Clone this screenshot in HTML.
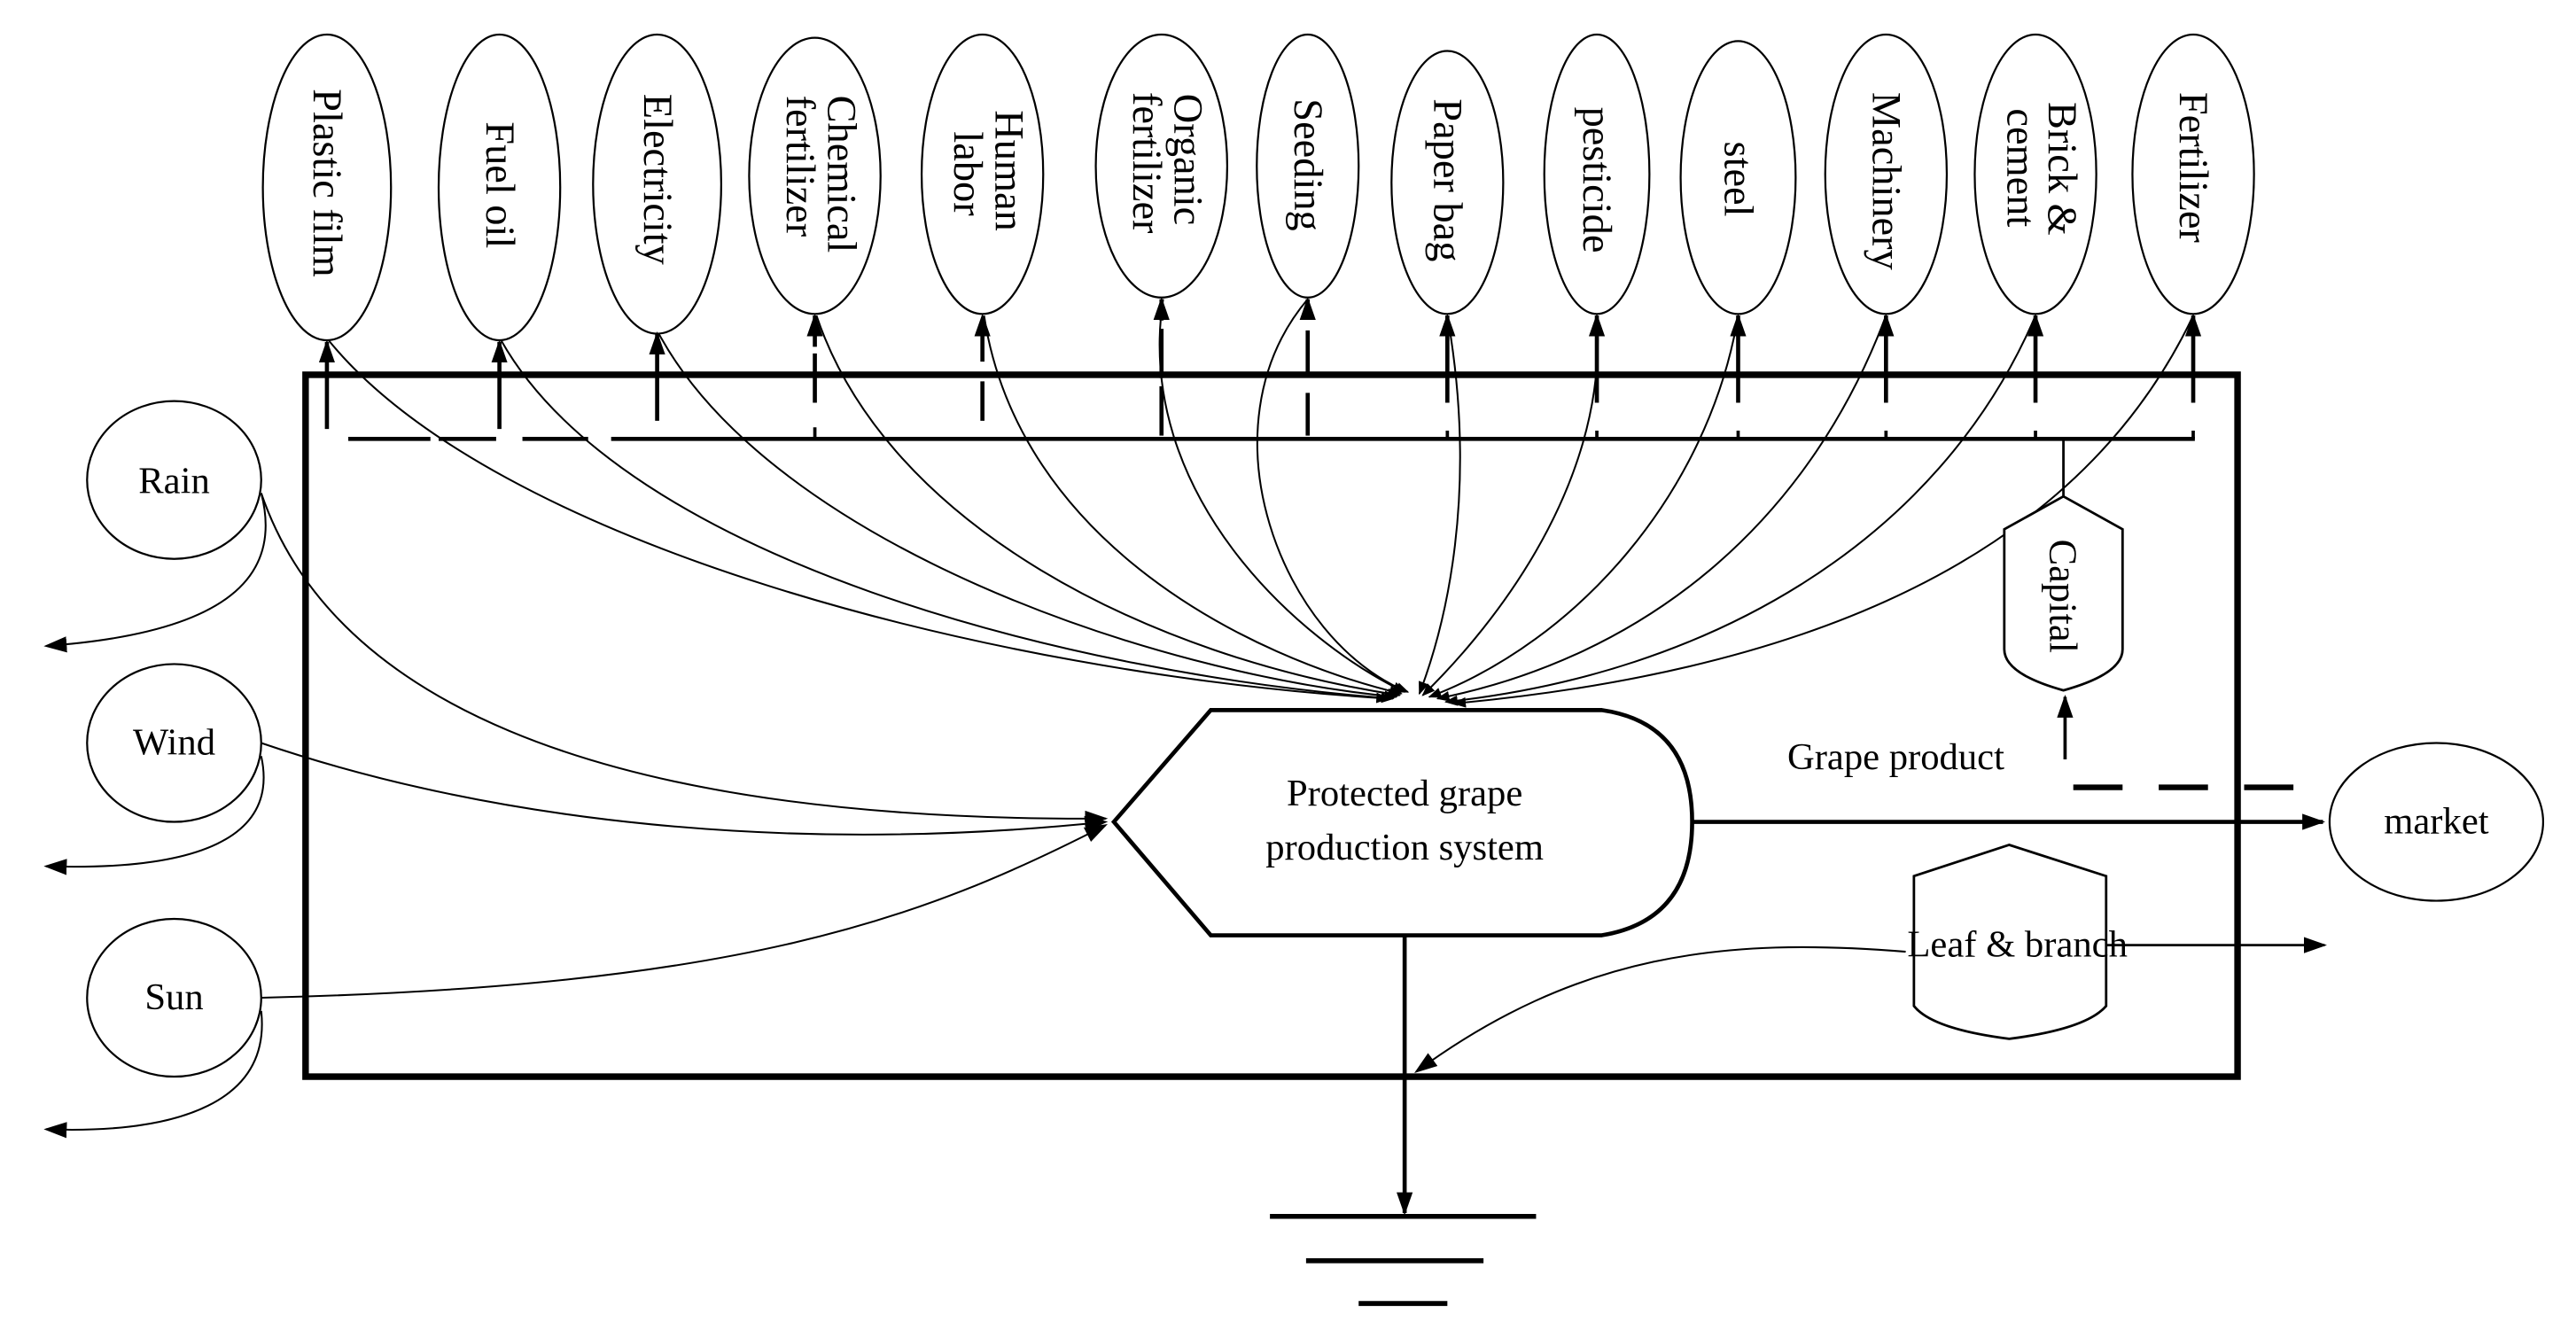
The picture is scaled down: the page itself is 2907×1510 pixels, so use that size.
<!DOCTYPE html>
<html><head><meta charset="utf-8"><style>html,body{margin:0;padding:0;background:#fff}svg{display:block}</style></head>
<body>
<svg width="2907" height="1510" viewBox="0 0 1568 814" preserveAspectRatio="none" xmlns="http://www.w3.org/2000/svg" font-family="Liberation Serif, serif" fill="none" stroke="#000">
<defs>
<marker id="a" viewBox="0 0 10 10" refX="9" refY="5" markerWidth="8" markerHeight="8" markerUnits="userSpaceOnUse" orient="auto"><path d="M0,1 L10,5 L0,9z" fill="#000" stroke="none"/></marker>
<marker id="b" viewBox="0 0 10 10" refX="9" refY="5" markerWidth="14" markerHeight="14" markerUnits="userSpaceOnUse" orient="auto"><path d="M0,1.5 L10,5 L0,8.5z" fill="#000" stroke="none"/></marker>
</defs>
<rect x="186" y="228" width="1176" height="427" stroke-width="4"/>
<g stroke-width="1.2" fill="#fff">
<ellipse cx="199" cy="114" rx="39" ry="93"/>
<ellipse cx="304" cy="114" rx="37" ry="93"/>
<ellipse cx="400" cy="112" rx="39" ry="91"/>
<ellipse cx="496" cy="107" rx="40" ry="84"/>
<ellipse cx="598" cy="106" rx="37" ry="85"/>
<ellipse cx="707" cy="101" rx="40" ry="80"/>
<ellipse cx="796" cy="101" rx="31" ry="80"/>
<ellipse cx="881" cy="111" rx="34" ry="80"/>
<ellipse cx="972" cy="106" rx="32" ry="85"/>
<ellipse cx="1058" cy="108" rx="35" ry="83"/>
<ellipse cx="1148" cy="106" rx="37" ry="85"/>
<ellipse cx="1239" cy="106" rx="37" ry="85"/>
<ellipse cx="1335" cy="106" rx="37" ry="85"/>
</g>
<g fill="#000" stroke="none" font-size="25">
<text transform="translate(191,54) rotate(90)">Plastic film</text>
<text transform="translate(296,74) rotate(90)">Fuel oil</text>
<text transform="translate(392,57) rotate(90)">Electricity</text>
<text transform="translate(504,58) rotate(90)">Chemical</text>
<text transform="translate(479,58) rotate(90)">fertilizer</text>
<text transform="translate(606,67) rotate(90)">Human</text>
<text transform="translate(581,80) rotate(90)">labor</text>
<text transform="translate(715,57) rotate(90)">Organic</text>
<text transform="translate(690,56) rotate(90)">fertilizer</text>
<text transform="translate(788,60) rotate(90)">Seeding</text>
<text transform="translate(873,60) rotate(90)">Paper bag</text>
<text transform="translate(964,65) rotate(90)">pesticide</text>
<text transform="translate(1050,86) rotate(90)">steel</text>
<text transform="translate(1140,56) rotate(90)">Machinery</text>
<text transform="translate(1247,62) rotate(90)">Brick &amp;</text>
<text transform="translate(1222,66) rotate(90)">cement</text>
<text transform="translate(1327,56) rotate(90)">Fertilizer</text>
</g>
<path d="M212,267 H262 M267,267 H302 M318,267 H358 M372,267 H1336" stroke-width="2.5"/>
<g stroke-width="2.5" marker-end="url(#b)">
<path d="M199,261 V208"/>
<path d="M304,261 V208"/>
<path d="M400,256 V203"/>
<path d="M496,245 V192" stroke-dasharray="30,4"/>
<path d="M598,256 V192" stroke-dasharray="24,12"/>
<path d="M707,265 V182" stroke-dasharray="30,5"/>
<path d="M796,265 V182" stroke-dasharray="26,12"/>
<path d="M881,245 V192"/>
<path d="M972,245 V192"/>
<path d="M1058,245 V192"/>
<path d="M1148,245 V192"/>
<path d="M1239,245 V192"/>
<path d="M1335,245 V192"/>
</g>
<g stroke-width="2"><path d="M881,262V267M972,262V267M1058,262V267M1148,262V267M1239,262V267M1335,262V267M496,260V267"/></g>
<g stroke-width="1.1" marker-end="url(#a)">
<path d="M200,207 C300,330 600,410 845,425"/>
<path d="M305,207 C380,340 650,410 848,425"/>
<path d="M401,203 C470,330 700,410 850,424"/>
<path d="M497,192 C540,320 700,400 852,423"/>
<path d="M599,192 C620,330 760,400 853,422"/>
<path d="M708,182 C690,300 790,390 855,421"/>
<path d="M796,182 C730,260 780,390 857,421"/>
<path d="M881,192 C900,300 880,380 864,422"/>
<path d="M972,192 C980,300 900,390 866,423"/>
<path d="M1058,192 C1040,300 960,390 870,424"/>
<path d="M1148,192 C1100,320 1000,400 875,425"/>
<path d="M1239,192 C1180,330 1040,410 880,427"/>
<path d="M1335,192 C1260,350 1080,410 885,428"/>
</g>
<path d="M1256,267 V302" stroke-width="1.5"/>
<path d="M1256,302 L1292,322 V395 Q1292,410 1256,420 Q1220,410 1220,395 V322 Z" stroke-width="1.5" fill="#fff"/>
<text transform="translate(1248,328) rotate(90)" font-size="24" fill="#000" stroke="none">Capital</text>
<path d="M1257,462 V424" stroke-width="2" marker-end="url(#b)"/>
<g stroke-width="1.2" fill="#fff">
<ellipse cx="106" cy="292" rx="53" ry="48"/>
<ellipse cx="106" cy="452" rx="53" ry="48"/>
<ellipse cx="106" cy="607" rx="53" ry="48"/>
</g>
<g fill="#000" stroke="none" font-size="23" text-anchor="middle">
<text x="106" y="300">Rain</text>
<text x="106" y="459">Wind</text>
<text x="106" y="614">Sun</text>
</g>
<g stroke-width="1.1" marker-end="url(#b)">
<path d="M159,300 C172,350 140,385 28,393"/>
<path d="M159,460 C170,510 120,530 28,527"/>
<path d="M159,615 C165,670 110,690 28,687"/>
<path d="M159,300 C200,420 350,500 673,498"/>
<path d="M159,452 C300,500 480,520 673,500"/>
<path d="M159,607 C450,600 560,560 673,502"/>
</g>
<path d="M678,500 L737,432 H975 Q1030,440 1030,500 Q1030,560 975,569 H737 Z" stroke-width="2.5" fill="#fff"/>
<g fill="#000" stroke="none" font-size="23" text-anchor="middle">
<text x="855" y="490">Protected grape</text>
<text x="855" y="523">production system</text>
<text x="1154" y="468">Grape product</text>
<text x="1483" y="507">market</text>
</g>
<path d="M1262,479 H1405" stroke-width="3.5" stroke-dasharray="30,22"/>
<ellipse cx="1483" cy="500" rx="65" ry="48" stroke-width="1.2"/>
<path d="M1030,500 H1414" stroke-width="2.5" marker-end="url(#b)"/>
<path d="M1223,514 L1282,533 V612 Q1270,626 1223,632 Q1176,626 1165,612 V533 Z" stroke-width="1.5"/>
<text x="1228" y="582" font-size="23" text-anchor="middle" fill="#000" stroke="none">Leaf &amp; branch</text>
<path d="M1282,575 H1415" stroke-width="1.5" marker-end="url(#b)"/>
<path d="M1160,579 C1050,570 960,580 862,652" stroke-width="1.1" marker-end="url(#b)"/>
<path d="M855,569 V738" stroke-width="2.5" marker-end="url(#b)"/>
<g stroke-width="3"><path d="M773,740 H935 M795,767 H903 M827,793 H881"/></g>
</svg>
</body></html>
